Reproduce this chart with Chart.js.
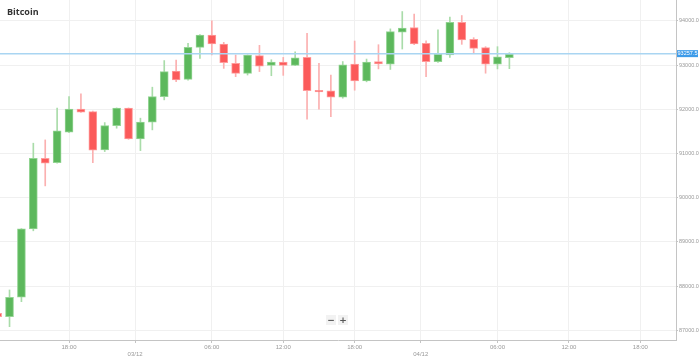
<!DOCTYPE html>
<html>
<head>
<meta charset="utf-8">
<script src="https://cdn.jsdelivr.net/npm/chart.js@4/dist/chart.umd.min.js"></script>
<style>
  html, body { margin: 0; padding: 0; background: #fff; }
  #wrap { position: relative; width: 699px; height: 359px; }
  #title { position: absolute; left: 7px; top: 5px; font: bold 9px "Open Sans", sans-serif; color: #333; }
  #zoom { position: absolute; left: 326px; top: 315px; font: bold 9px "DejaVu Sans", sans-serif; color: #555; }
  #zoom span { display: inline-block; width: 10px; height: 10px; line-height: 10px; text-align: center; background: #f2f2f2; margin-right: 2px; }
</style>
</head>
<body>
<div id="wrap">
  <canvas id="candles"></canvas>
  <div id="title">Bitcoin</div>
  <div id="zoom"><span>−</span><span>+</span></div>
</div>
<script>
// hours relative to 03/12 00:00
var hours = [-12,-11,-10,-9,-8,-7,-6,-5,-4,-3,-2,-1,0,1,2,3,4,5,6,7,8,9,10,11,12,13,14,15,16,17,18,19,20,21,22,23,24,25,26,27,28,29,30,31];
var opens = [87385,87308,87747,89292,90892,90793,91481,92001,91947,91080,91630,92024,91329,91707,92286,92864,92676,93400,93679,93475,93038,92812,93211,92992,93068,92992,93173,92430,92415,92273,93019,92642,93079,93019,93742,93848,93490,93075,93226,93966,93581,93392,93019,93165];
var highs = [87420,87912,89300,91232,91306,92024,92286,92347,91960,91698,92030,92030,91798,92499,93101,93113,93490,93690,94001,93513,93226,93230,93445,93120,93173,93301,93716,93038,92774,93079,93543,93135,93460,93818,94210,94151,93547,93796,94083,94120,93619,93415,93415,93279];
var lows  = [87280,87081,87647,89250,90266,90780,91470,91930,90793,91042,91571,91320,91064,91533,92212,92622,92660,93150,93226,92924,92736,92774,92852,92758,92766,92985,91775,92001,91834,92250,92430,92620,92912,92900,93362,93460,92736,93060,93173,93468,93279,92815,92912,92918];
var closes= [87308,87747,89292,90892,90779,91510,92001,91933,91073,91630,92024,91329,91707,92286,92852,92661,93400,93679,93475,93053,92812,93226,92977,93068,92992,93165,92422,92392,92273,93004,92642,93068,93027,93757,93833,93475,93075,93241,93966,93566,93377,93019,93184,93250];
var currentPrice = 93257.5;

// x axis ticks
var tickHours  = [-6, -0.45, 6, 12, 18, 23.55, 30, 36, 42];
var tickLabels = [['18:00'], ['', '03/12'], ['06:00'], ['12:00'], ['18:00'], ['', '04/12'], ['06:00'], ['12:00'], ['18:00']];
var yTicks = [87000, 88000, 89000, 90000, 91000, 92000, 93000, 94000];

var xMin = -11.8, xMax = 45.0;

var bodies = [], wicks = [];
for (var i = 0; i < hours.length; i++) {
    bodies.push({x: hours[i], y: [opens[i], closes[i]]});
    wicks.push({x: hours[i], y: [lows[i], highs[i]]});
}
function isUp(i) { return closes[i] >= opens[i]; }

var priceTag = {
    id: 'priceTag',
    afterDraw: function(chart) {
        var ctx = chart.ctx, ys = chart.scales.y;
        var y = ys.getPixelForValue(currentPrice);
        var x0 = chart.chartArea.right + 1;
        ctx.save();
        ctx.fillStyle = '#3d9be9';
        ctx.fillRect(x0, y - 3.5, 21, 7);
        ctx.fillStyle = '#fff';
        ctx.font = '5.5px "Liberation Sans", sans-serif';
        ctx.textBaseline = 'middle';
        ctx.textAlign = 'center';
        ctx.fillText(currentPrice.toFixed(1), x0 + 10.5, y + 0.3);
        ctx.restore();
    }
};

var ctx = document.getElementById('candles').getContext('2d');
var chart = new Chart(ctx, {
    type: 'bar',
    data: {
        datasets: [
            {
                type: 'line',
                data: [{x: xMin, y: currentPrice}, {x: xMax, y: currentPrice}],
                borderColor: '#a9d5f2',
                borderWidth: 1.5,
                pointRadius: 0,
                order: 0
            },
            {
                data: bodies,
                grouped: false,
                barThickness: 8,
                borderSkipped: false,
                borderWidth: 1,
                backgroundColor: function(c) { return isUp(c.dataIndex) ? '#5cb85c' : '#fb5a5a'; },
                borderColor: function(c) { return isUp(c.dataIndex) ? '#93d493' : '#ff9c9c'; },
                order: 1
            },
            {
                data: wicks,
                grouped: false,
                barThickness: 1,
                borderWidth: 0,
                backgroundColor: function(c) { return isUp(c.dataIndex) ? '#a9dca9' : '#fbb0b0'; },
                order: 2
            }
        ]
    },
    options: {
        responsive: true,
        maintainAspectRatio: false,
        animation: false,
        layout: { padding: 0 },
        plugins: { legend: { display: false }, tooltip: { enabled: false } },
        scales: {
            x: {
                type: 'linear',
                offset: false,
                min: xMin,
                max: xMax,
                afterBuildTicks: function(scale) {
                    scale.ticks = tickHours.map(function(v) { return {value: v}; });
                },
                afterFit: function(scale) { scale.height = 19; scale.paddingLeft = 0; scale.paddingRight = 0; },
                ticks: {
                    autoSkip: false,
                    maxRotation: 0,
                    padding: 1,
                    color: '#999',
                    font: { size: 6, family: '"Liberation Sans", sans-serif' },
                    callback: function(v) {
                        var k = tickHours.indexOf(v);
                        return k >= 0 ? tickLabels[k] : '';
                    }
                },
                grid: { offset: false, color: '#f0f0f0', tickColor: '#c4c4c4', tickLength: 3 },
                border: { color: '#c4c4c4' }
            },
            y: {
                position: 'right',
                min: 86780,
                max: 94471,
                afterBuildTicks: function(scale) {
                    scale.ticks = yTicks.map(function(v) { return {value: v}; });
                },
                afterFit: function(scale) { scale.width = 23; scale.paddingTop = 0; scale.paddingBottom = 0; },
                ticks: {
                    padding: 1,
                    color: '#999',
                    font: { size: 5.5, family: '"Liberation Sans", sans-serif' },
                    callback: function(v) { return v.toFixed(1); }
                },
                grid: { color: '#f0f0f0', tickColor: '#c4c4c4', tickLength: 2 },
                border: { color: '#c4c4c4' }
            }
        }
    },
    plugins: [priceTag]
});
</script>
</body>
</html>
